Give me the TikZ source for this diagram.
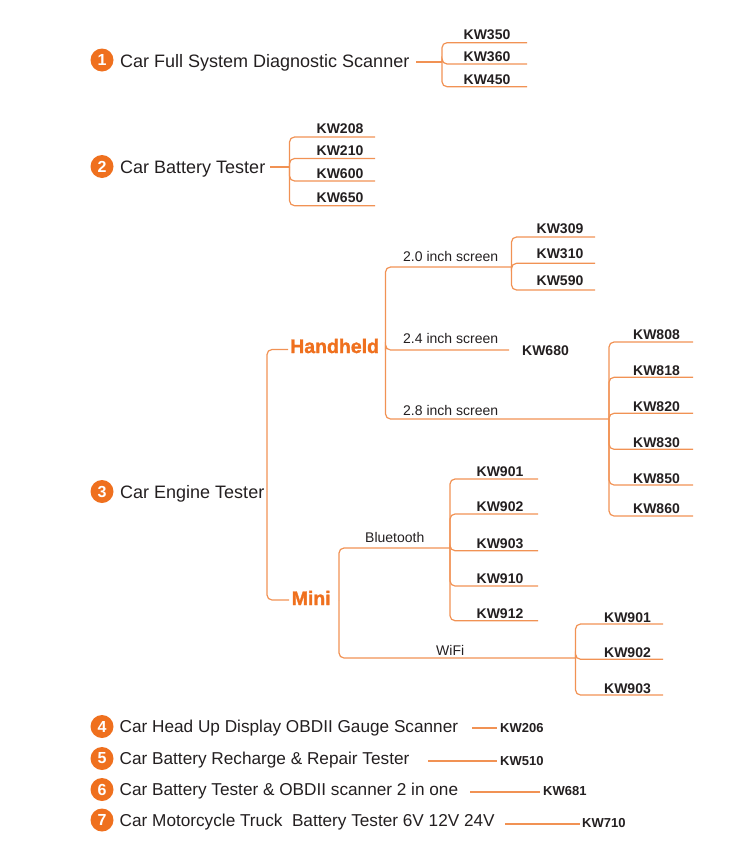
\documentclass[tikz,border=0pt]{standalone}
\usepackage{fontspec}
\setmainfont{Liberation Sans}
\newfontfamily\heavyfont{Liberation Sans Bold}[FakeBold=1.6]
\definecolor{orc}{RGB}{239,112,30}
\definecolor{orl}{RGB}{241,146,84}
\definecolor{txt}{RGB}{35,31,32}
\tikzset{
  numc/.style={circle, fill=orc, minimum size=23pt, inner sep=0pt, text=white, font=\fontsize{16}{16}\selectfont\bfseries},
  maintxt/.style={anchor=base west, inner sep=0pt, text=txt, font=\fontsize{18}{20}\selectfont},
  subtxt/.style={anchor=base west, inner sep=0pt, text=txt, font=\fontsize{17.2}{20}\selectfont},
  kw/.style={anchor=base, inner sep=0pt, text=txt, font=\fontsize{14}{16}\selectfont\bfseries},
  kws/.style={anchor=base west, inner sep=0pt, text=txt, font=\fontsize{13}{15}\selectfont\bfseries},
  brl/.style={anchor=base west, inner sep=0pt, text=txt, font=\fontsize{14}{16}\selectfont},
  cat/.style={anchor=base west, inner sep=0pt, text=orc, font=\fontsize{19.5}{22}\heavyfont},
  br/.style={draw=orl, line width=1.2pt, rounded corners=5pt},
}
\begin{document}
\begin{tikzpicture}[x=1pt,y=-1pt]
\path[use as bounding box] (0,0) rectangle (750,849);

% ---------- 1 ----------
\node[numc] (c1) at (102,60) {1};
\node[maintxt] (t1) at (120,67) {Car Full System Diagnostic Scanner};
\coordinate (s1) at (416,62);
\coordinate (j1) at (442,62);
\draw[br] (s1) -- (j1);
\foreach \lab/\y/\b in {KW350/42.7/39.5, KW360/64/61, KW450/86.7/84}{
  \node[kw] (k1-\lab) at (487,\b) {\lab};
  \coordinate (e1-\lab) at (527,\y);
  \draw[br] (j1) |- (e1-\lab);
}

% ---------- 2 ----------
\node[numc] (c2) at (102,166.5) {2};
\node[maintxt] (t2) at (120,173) {Car Battery Tester};
\coordinate (s2) at (270,167);
\coordinate (j2) at (289.5,167);
\draw[br] (s2) -- (j2);
\foreach \lab/\y/\b in {KW208/137/133.5, KW210/158.5/155, KW600/181/178, KW650/205.7/202.5}{
  \node[kw] (k2-\lab) at (340,\b) {\lab};
  \coordinate (e2-\lab) at (375,\y);
  \draw[br] (j2) |- (e2-\lab);
}

% ---------- 3 ----------
\node[numc] (c3) at (102,491.5) {3};
\node[maintxt] (t3) at (120,498) {Car Engine Tester};
\coordinate (j3) at (267,491);
\node[cat] (hand) at (290,353) {Handheld};
\node[cat] (mini) at (291.5,605) {Mini};
\coordinate (eh) at (288,349.5);
\coordinate (em) at (289,600);
\draw[br] (j3) |- (eh);
\draw[br] (j3) |- (em);

% Handheld
\coordinate (jh) at (385.5,350);
\coordinate (j20) at (511.5,267);
\coordinate (e24) at (509,350);
\coordinate (j28) at (609,419);
\draw[br] (jh) |- (j20);
\draw[br] (jh) |- (e24);
\draw[br] (jh) |- (j28);
\node[brl] (l20) at (403,261.5) {2.0 inch screen};
\node[brl] (l24) at (403,343) {2.4 inch screen};
\node[brl] (l28) at (403,415) {2.8 inch screen};
\foreach \lab/\y/\b in {KW309/237/233, KW310/263.3/258.5, KW590/290/285}{
  \node[kw] (k20-\lab) at (560,\b) {\lab};
  \coordinate (e20-\lab) at (595,\y);
  \draw[br] (j20) |- (e20-\lab);
}
\node[kw] (k680) at (545.5,355) {KW680};
\foreach \lab/\y/\b in {KW808/342/339.5, KW818/377.3/375, KW820/413.3/411, KW830/449.3/447, KW850/485/483, KW860/516/513.5}{
  \node[kw] (k28-\lab) at (656.5,\b) {\lab};
  \coordinate (e28-\lab) at (693,\y);
  \draw[br] (j28) |- (e28-\lab);
}

% Mini
\coordinate (jm) at (339,600);
\coordinate (jb) at (450,548);
\coordinate (jw) at (575.5,658);
\draw[br] (jm) |- (jb);
\draw[br] (jm) |- (jw);
\node[brl] (lbt) at (365,542) {Bluetooth};
\node[brl] (lwf) at (436,655) {WiFi};
\foreach \lab/\y/\b in {KW901/479/476, KW902/514/511.5, KW903/550.7/548, KW910/586/583.5, KW912/620.7/618.5}{
  \node[kw] (kb-\lab) at (500,\b) {\lab};
  \coordinate (eb-\lab) at (538,\y);
  \draw[br] (jb) |- (eb-\lab);
}
\foreach \lab/\y/\b in {KW901/624/622, KW902/659.3/657.5, KW903/695/693}{
  \node[kw] (kw-\lab) at (627.5,\b) {\lab};
  \coordinate (ew-\lab) at (663,\y);
  \draw[br] (jw) |- (ew-\lab);
}

% ---------- 4-7 ----------
\node[numc] (c4) at (102,726.5) {4};
\node[subtxt] (t4) at (119.5,732.5) {Car Head Up Display OBDII Gauge Scanner};
\coordinate (a4) at (472,728);
\coordinate (b4) at (497,728);
\draw[br] (a4) -- (b4);
\node[kws] (k206) at (500,732) {KW206};

\node[numc] (c5) at (102,758.5) {5};
\node[subtxt] (t5) at (119.5,764.5) {Car Battery Recharge \& Repair Tester};
\coordinate (a5) at (428,761);
\coordinate (b5) at (497,761);
\draw[br] (a5) -- (b5);
\node[kws] (k510) at (500,765) {KW510};

\node[numc] (c6) at (102,789.5) {6};
\node[subtxt] (t6) at (119.5,795.5) {Car Battery Tester \& OBDII scanner 2 in one};
\coordinate (a6) at (470,792);
\coordinate (b6) at (540,792);
\draw[br] (a6) -- (b6);
\node[kws] (k681) at (543,795.5) {KW681};

\node[numc] (c7) at (102,820) {7};
\node[subtxt] (t7) at (119.5,826) {Car Motorcycle Truck\ \ Battery Tester 6V 12V 24V};
\coordinate (a7) at (505,824);
\coordinate (b7) at (580,824);
\draw[br] (a7) -- (b7);
\node[kws] (k710) at (582,827.5) {KW710};
\end{tikzpicture}
\end{document}
